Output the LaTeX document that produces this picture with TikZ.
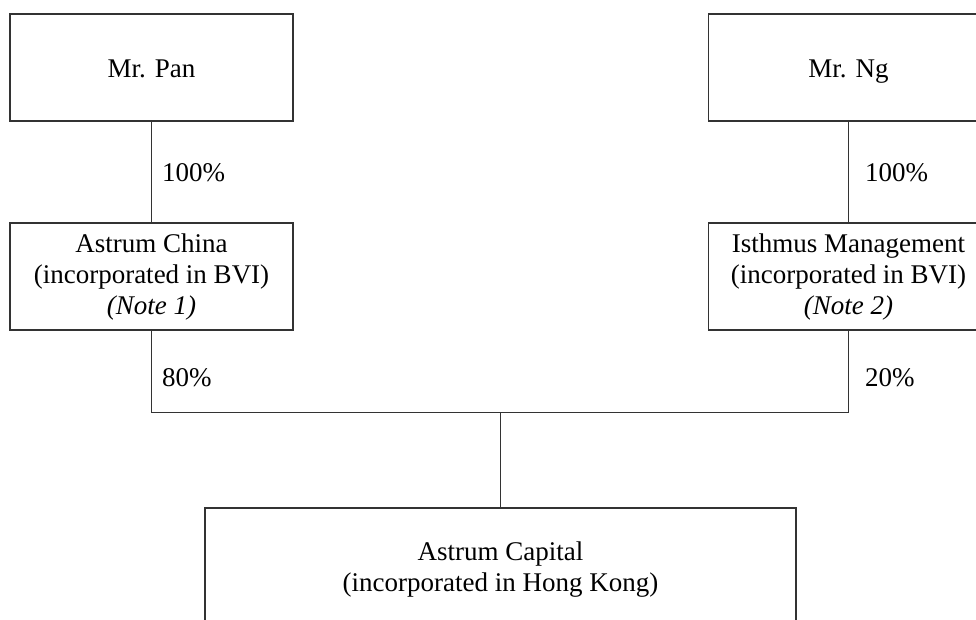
\documentclass[tikz,border=0pt]{standalone}
\usepackage{fontspec}
\setmainfont{Liberation Serif}
\usepackage{xcolor}
\usetikzlibrary{calc}
\definecolor{linegray}{HTML}{333333}
\begin{document}
\begin{tikzpicture}[x=1pt, y=-1pt, font=\fontsize{27}{31}\selectfont,
        ownerbox/.style={rectangle, draw=linegray, line width=1.3pt, align=center, inner sep=0pt},
        personbox/.style={ownerbox, text height=22pt, text depth=3pt},
        share/.style={anchor=west, inner sep=0pt}]
    \useasboundingbox (0,0) rectangle (976,619);
    \node[personbox, minimum width=283pt, minimum height=107pt] (pan) at (151.5,67.5) {Mr. Pan};
    \node[personbox, minimum width=280pt, minimum height=107pt] (ng) at (848.5,67.5) {Mr. Ng};
    \node[ownerbox, minimum width=283pt, minimum height=107pt] (china) at (151.5,276.5) {Astrum China\\(incorporated in BVI)\\\textit{(Note 1)}};
    \node[ownerbox, minimum width=280pt, minimum height=107pt] (isthmus) at (848.5,276.5) {Isthmus Management\\(incorporated in BVI)\\\textit{(Note 2)}};
    \node[ownerbox, minimum width=591pt, minimum height=124pt] (capital) at (500.5,570) {Astrum Capital\\(incorporated in Hong Kong)};
    \coordinate (bar) at (500.5,412.5);

    \node[share] (panpct) at (162,173) {100\%};
    \node[share] (ngpct) at (865,173) {100\%};
    \node[share] (chinapct) at (162,378) {80\%};
    \node[share] (isthmuspct) at (865,378) {20\%};

    \tikzset{every path/.style={draw=linegray, line width=1.3pt}}
    \draw (pan) -- (china);
    \draw (ng) -- (isthmus);
    \draw (china.south) |- (bar) -| (isthmus.south);
    \draw (bar) -- (capital.north);
\end{tikzpicture}
\end{document}
